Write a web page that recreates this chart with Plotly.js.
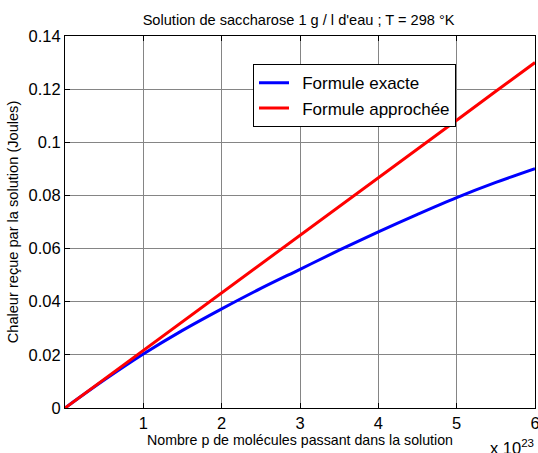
<!DOCTYPE html>
<html>
<head>
<meta charset="utf-8">
<script src="https://cdn.plot.ly/plotly-3.0.1.min.js"></script>
<style>html,body{margin:0;padding:0;background:#fff;} #chart{width:538px;height:453px;}</style>
</head>
<body>
<div id="chart"></div>
<script>
// Number of molecules p (×10^23)
const pValues = [0, 0.5, 1, 1.5, 2, 2.5, 3, 3.5, 4, 4.5, 5, 5.5, 6];
// Heat received by the solution (Joules)
const exactHeat = [0, 0.0105, 0.0203, 0.0292, 0.0373, 0.0450, 0.0522, 0.0594, 0.0663, 0.0729, 0.0792, 0.0849, 0.0901];
const approxHeat = [0, 0.0108, 0.0217, 0.0325, 0.0433, 0.0542, 0.0650, 0.0758, 0.0867, 0.0975, 0.1083, 0.1192, 0.1300];
const seriesNames = ['Formule exacte', 'Formule approchée'];
const xTickVals = [1, 2, 3, 4, 5, 6];
const yTickVals = [0, 0.02, 0.04, 0.06, 0.08, 0.1, 0.12, 0.14];
const yTickText = ['0', '0.02', '0.04', '0.06', '0.08', '0.1', '0.12', '0.14'];

const font = 'Liberation Sans, Arial, sans-serif';
const gap = '\u2009\u00a0';
const traces = [
  {x: pValues, y: exactHeat, name: gap + seriesNames[0], mode: 'lines', line: {color: '#0000ff', width: 3, shape: 'spline', smoothing: 1}},
  {x: pValues, y: approxHeat, name: gap + seriesNames[1], mode: 'lines', line: {color: '#ff0000', width: 3}}
];
const axisCommon = {
  showline: true, linecolor: '#000', linewidth: 1, mirror: 'ticks',
  ticks: 'inside', ticklen: 5, tickcolor: '#000', tickwidth: 1,
  showgrid: true, gridcolor: '#858585', gridwidth: 1, zeroline: false,
  ticklabeloverflow: 'allow',
  tickfont: {family: font, size: 16.5, color: '#000'}
};
const layout = {
  width: 538, height: 453,
  margin: {l: 65, r: 3, t: 36, b: 45},
  paper_bgcolor: '#fff', plot_bgcolor: '#fff',
  font: {family: font, color: '#000'},
  title: {text: "Solution de saccharose 1 g / l d'eau ; T = 298 °K", font: {family: font, size: 14.6, color: '#000'}, x: 0.555, xanchor: 'center', y: 0.955, yanchor: 'middle'},
  xaxis: Object.assign({}, axisCommon, {
    range: [0, 6], tickvals: xTickVals, ticktext: xTickVals.map(String),
    title: {text: 'Nombre p de molécules passant dans la solution', font: {family: font, size: 14.2, color: '#000'}, standoff: 2}
  }),
  yaxis: Object.assign({}, axisCommon, {
    range: [0, 0.14], tickvals: yTickVals, ticktext: yTickText,
    title: {text: 'Chaleur reçue par la solution (Joules)', font: {family: font, size: 14.6, color: '#000'}, standoff: 6}
  }),
  legend: {x: 0.4, y: 0.924, xanchor: 'left', yanchor: 'top', bgcolor: '#fff', bordercolor: '#000', borderwidth: 1,
    font: {family: font, size: 17, color: '#000'}, tracegroupgap: 0},
  showlegend: true,
  annotations: [
    {xref: 'paper', yref: 'paper', x: 1.002, y: -0.136, xanchor: 'right', yanchor: 'bottom', showarrow: false,
     text: 'x 10<sup>23</sup>', font: {family: font, size: 16.5, color: '#000'}}
  ]
};
Plotly.newPlot('chart', traces, layout, {displayModeBar: false, staticPlot: true});
</script>
</body>
</html>
